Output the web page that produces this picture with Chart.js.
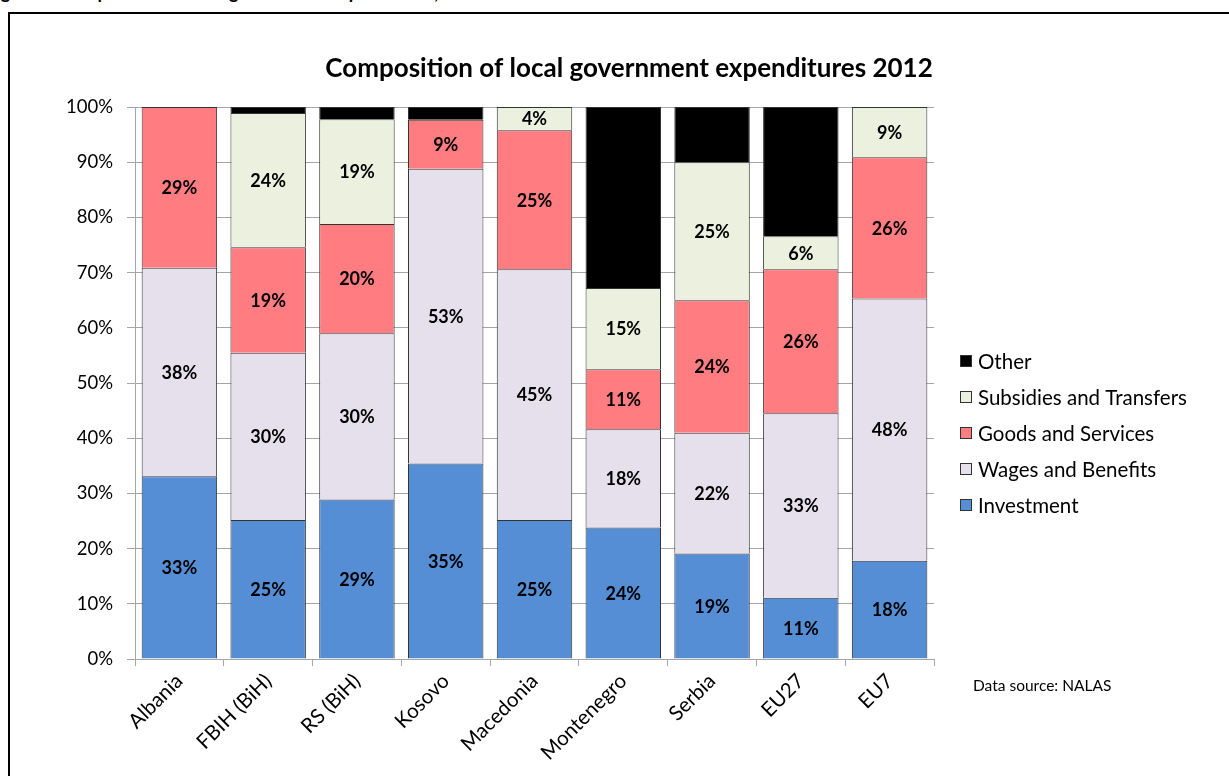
<!DOCTYPE html>
<html>
<head>
<meta charset="utf-8">
<script src="https://cdn.jsdelivr.net/npm/chart.js@4.4.0/dist/chart.umd.min.js"></script>
<style>
  html,body{margin:0;padding:0;background:#fff;overflow:hidden;}
  #wrap{position:relative;width:1229px;height:776px;}
  #frame{position:absolute;left:8px;top:12px;width:1240px;height:800px;border:2px solid #000;box-sizing:border-box;}
  #cap{position:absolute;left:-14px;top:-19px;font:bold 18px Lato, sans-serif;color:#000;white-space:nowrap;}
  canvas{position:absolute;left:0;top:0;}
</style>
</head>
<body>
<div id="wrap">
  <div id="cap">Figure 3: Composition of local government expenditures, 2012</div>
  <div id="frame"></div>
  <canvas id="c" width="1229" height="776"></canvas>
</div>
<script>
const categories = ["Albania","FBIH (BiH)","RS (BiH)","Kosovo","Macedonia","Montenegro","Serbia","EU27","EU7"];
const investment = [33.1, 25.2, 28.9, 35.4, 25.2, 23.8, 19.1, 11.1, 17.8];
const wages      = [37.8, 30.3, 30.1, 53.4, 45.4, 17.8, 21.9, 33.4, 47.5];
const goods      = [29.1, 19.1, 19.8, 8.9, 25.2, 10.9, 24.0, 26.1, 25.6];
const subsidies  = [0, 24.3, 19.0, 0, 4.2, 14.7, 25.0, 6.0, 9.1];
const other      = [0, 1.1, 2.2, 2.3, 0, 32.8, 10.0, 23.4, 0];
const yTicks = [0,10,20,30,40,50,60,70,80,90,100];
const titleText = "Composition of local government expenditures 2012";
const sourceText = "Data source: NALAS";

const FONT = "Lato, 'Open Sans', sans-serif";
const edge = "#333333";

const datasets = [
  {label:"Investment", data:investment, backgroundColor:"#558ED5", showLabels:true},
  {label:"Wages and Benefits", data:wages, backgroundColor:"#E6E0EC", showLabels:true},
  {label:"Goods and Services", data:goods, backgroundColor:"#FF7C80", showLabels:true},
  {label:"Subsidies and Transfers", data:subsidies, backgroundColor:"#EBF1DE", showLabels:true},
  {label:"Other", data:other, backgroundColor:"#000000", showLabels:false}
].map(d => Object.assign(d, {borderColor:edge, borderWidth:1, barPercentage:0.85, categoryPercentage:1.0}));

const labelPlugin = {
  id:'segLabels',
  afterDatasetsDraw(chart){
    const ctx = chart.ctx;
    ctx.save();
    ctx.font = "bold 18px " + FONT;
    ctx.fillStyle = "#000";
    ctx.textAlign = "center";
    ctx.textBaseline = "middle";
    chart.data.datasets.forEach((ds, di) => {
      if(!ds.showLabels) return;
      const meta = chart.getDatasetMeta(di);
      meta.data.forEach((el, i) => {
        const v = ds.data[i];
        if(v < 3.5) return;
        const y = (el.y + el.base)/2;
        ctx.fillText(Math.round(v) + "%", el.x, y + 1);
      });
    });
    ctx.restore();
  }
};

const decorPlugin = {
  id:'decor',
  afterDraw(chart){
    const ctx = chart.ctx;
    ctx.save();
    ctx.font = "bold 26px " + FONT;
    ctx.fillStyle = "#000";
    ctx.textAlign = "center";
    ctx.textBaseline = "middle";
    ctx.fillText(titleText, 629, 69);
    ctx.font = "20.5px " + FONT;
    ctx.textAlign = "left";
    const ds = chart.data.datasets.slice().reverse();
    ds.forEach((d, k) => {
      const y = 361 + k*36;
      ctx.fillStyle = d.backgroundColor;
      ctx.fillRect(960.5, y-5.5, 11, 11);
      ctx.strokeStyle = edge;
      ctx.lineWidth = 1;
      ctx.strokeRect(960.5, y-5.5, 11, 11);
      ctx.fillStyle = "#000";
      ctx.fillText(d.label, 978, y+1);
    });
    ctx.font = "15.5px " + FONT;
    ctx.fillText(sourceText, 973, 686);
    ctx.restore();
  }
};

new Chart(document.getElementById('c'), {
  type:'bar',
  data:{labels:categories, datasets:datasets},
  options:{
    responsive:false,
    animation:false,
    devicePixelRatio:1,
    layout:{padding:{left:0, right:1229-934, top:107, bottom:0}},
    plugins:{legend:{display:false}, title:{display:false}, tooltip:{enabled:false}},
    scales:{
      x:{
        stacked:true,
        grid:{display:true, drawOnChartArea:false, drawTicks:true, tickLength:7, color:"#A6A6A6", offset:true},
        border:{display:true, color:"#A6A6A6", width:1},
        ticks:{font:{family:FONT, size:20.5}, color:"#000", minRotation:45, maxRotation:45, padding:3},
        afterFit(s){ s.height = 776 - 659; }
      },
      y:{
        stacked:true, min:0, max:100,
        afterBuildTicks(s){ s.ticks = yTicks.map(v => ({value:v})); },
        grid:{color:"#A6A6A6", tickLength:8, lineWidth:1},
        border:{display:true, color:"#A6A6A6", width:1},
        ticks:{font:{family:FONT, size:18.5}, color:"#000", padding:14, callback:v => v + "%"},
        afterFit(s){ s.width = 135; }
      }
    }
  },
  plugins:[labelPlugin, decorPlugin]
});
</script>
</body>
</html>
